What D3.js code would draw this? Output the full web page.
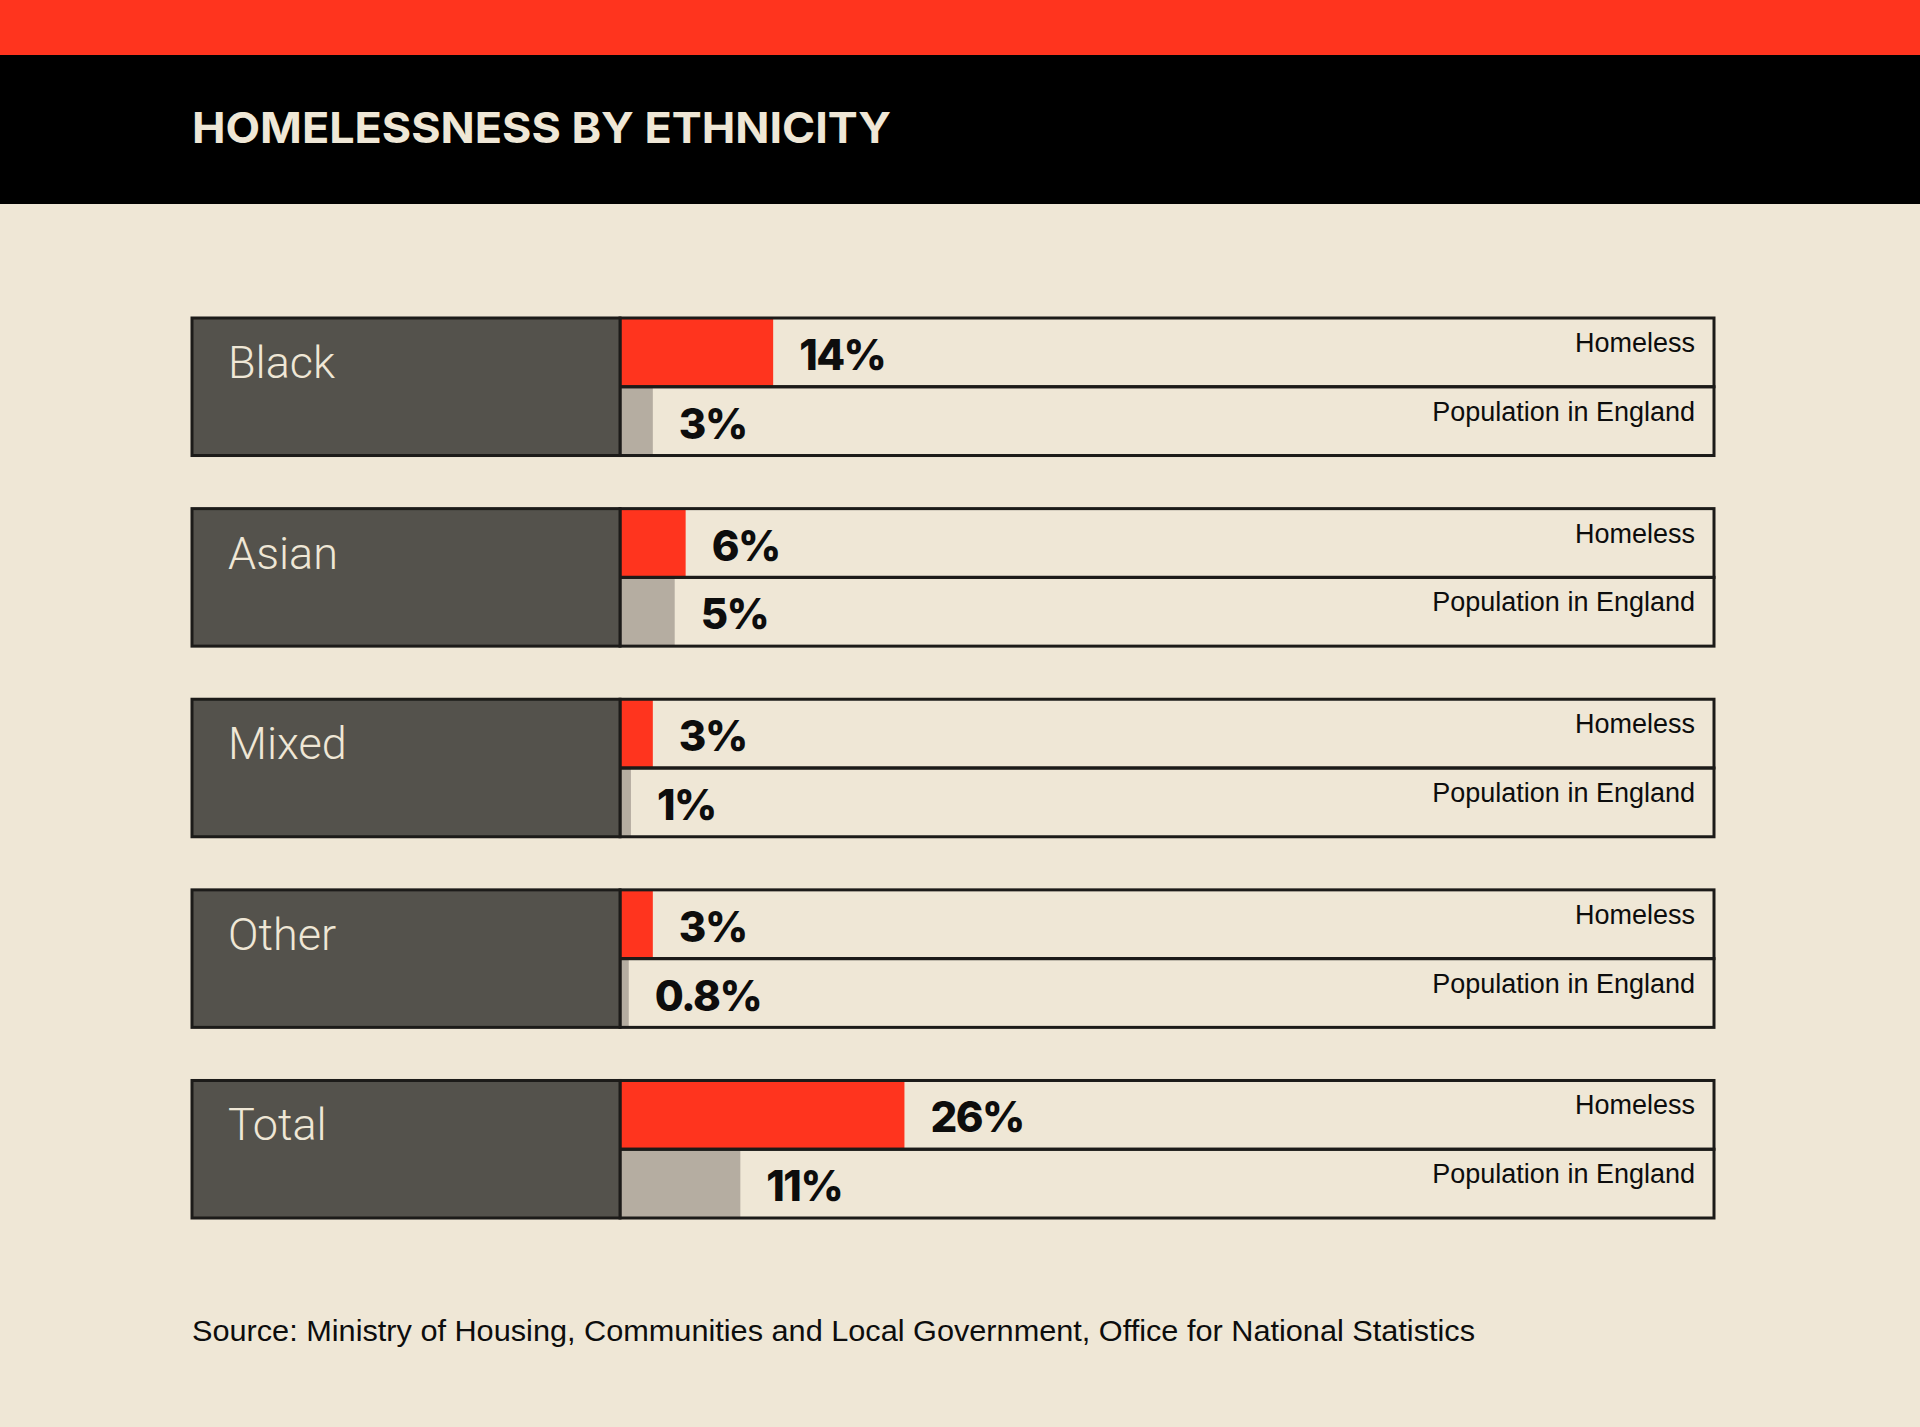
<!DOCTYPE html>
<html>
<head>
<meta charset="utf-8">
<script src="https://cdn.jsdelivr.net/npm/d3@7"></script>
<style>
  html, body { margin: 0; padding: 0; background: #efe7d6; }
  svg { display: block; }
</style>
</head>
<body>
<script>
// ---- Data ----
const categories = ["Black", "Asian", "Mixed", "Other", "Total"];
const homeless = [14, 6, 3, 3, 26];
const population = [3, 5, 1, 0.8, 11];
const homelessLabels = ["14%", "6%", "3%", "3%", "26%"];
const populationLabels = ["3%", "5%", "1%", "0.8%", "11%"];
const seriesNames = ["Homeless", "Population in England"];
const titleText = "HOMELESSNESS BY ETHNICITY";
const sourceText = "Source: Ministry of Housing, Communities and Local Government, Office for National Statistics";

// ---- Layout ----
const W = 1920, H = 1427;
const C = {
  bg: "#efe7d6", red: "#ff341e", black: "#000000", label: "#54524c",
  gray: "#b5ada1", stroke: "#1c1b19", cream: "#efe7d6", text: "#0d0d0d"
};

const svg = d3.select("body").append("svg").attr("width", W).attr("height", H);
svg.append("rect").attr("width", W).attr("height", H).attr("fill", C.bg);
svg.append("rect").attr("x", 0).attr("y", 0).attr("width", W).attr("height", 55).attr("fill", C.red);
svg.append("rect").attr("x", 0).attr("y", 55).attr("width", W).attr("height", 149).attr("fill", C.black);

svg.append("text").attr("x", 192).attr("y", 143)
  .attr("font-family", "Inter, 'Open Sans', sans-serif").attr("font-weight", 700)
  .attr("font-size", 43).attr("fill", C.cream)
  .attr("textLength", 699).attr("lengthAdjust", "spacingAndGlyphs")
  .text(titleText);

const leftX = 192, splitX = 620, rightX = 1714;
const x = d3.scaleLinear().domain([0, 100]).range([splitX, rightX]);
const y = d3.scaleBand().domain(categories).range([318, 1218]).paddingInner(0.2786).paddingOuter(0);
const bh = y.bandwidth();
const rh = bh / 2;

const data = categories.map((c, i) => ({
  cat: c,
  rows: [
    { name: seriesNames[0], v: homeless[i], label: homelessLabels[i], color: C.red },
    { name: seriesNames[1], v: population[i], label: populationLabels[i], color: C.gray }
  ]
}));

const g = svg.selectAll("g.grp").data(data).join("g").attr("class", "grp")
  .attr("transform", d => `translate(0,${y(d.cat)})`);

// bar area background
g.append("rect").attr("x", splitX).attr("y", 0).attr("width", rightX - splitX).attr("height", bh)
  .attr("fill", C.cream);

// bars
g.selectAll("rect.bar").data(d => d.rows).join("rect").attr("class", "bar")
  .attr("x", x(0)).attr("y", (d, i) => i * rh)
  .attr("width", d => x(d.v) - x(0)).attr("height", rh)
  .attr("fill", d => d.color);

// row outlines
g.selectAll("rect.row").data(d => d.rows).join("rect").attr("class", "row")
  .attr("x", splitX).attr("y", (d, i) => i * rh)
  .attr("width", rightX - splitX).attr("height", rh)
  .attr("fill", "none").attr("stroke", C.stroke).attr("stroke-width", 3);

// label box
g.append("rect").attr("x", leftX).attr("y", 0).attr("width", splitX - leftX).attr("height", bh)
  .attr("fill", C.label).attr("stroke", C.stroke).attr("stroke-width", 3);

g.append("text").attr("x", 228).attr("y", 60)
  .attr("font-family", "Roboto, 'Liberation Sans', sans-serif").attr("font-weight", 300)
  .attr("font-size", 45).attr("fill", C.cream)
  .text(d => d.cat);

// value labels
g.selectAll("text.val").data(d => d.rows).join("text").attr("class", "val")
  .attr("x", d => x(d.v) + 26).attr("y", (d, i) => i * rh + 52)
  .attr("font-family", "Inter, 'Open Sans', sans-serif").attr("font-weight", 800)
  .attr("font-size", 42).attr("letter-spacing", -1.5).attr("fill", C.text)
  .text(d => d.label);

// series labels
g.selectAll("text.ser").data(d => d.rows).join("text").attr("class", "ser")
  .attr("x", 1695).attr("y", (d, i) => i * rh + 34)
  .attr("text-anchor", "end")
  .attr("font-family", "'Liberation Sans', Arial, sans-serif").attr("font-weight", 400)
  .attr("font-size", 27).attr("fill", C.text)
  .text(d => d.name);

svg.append("text").attr("x", 192).attr("y", 1341)
  .attr("font-family", "'Liberation Sans', Arial, sans-serif")
  .attr("font-size", 30).attr("fill", C.text)
  .attr("textLength", 1283).attr("lengthAdjust", "spacingAndGlyphs")
  .text(sourceText);
</script>
</body>
</html>
